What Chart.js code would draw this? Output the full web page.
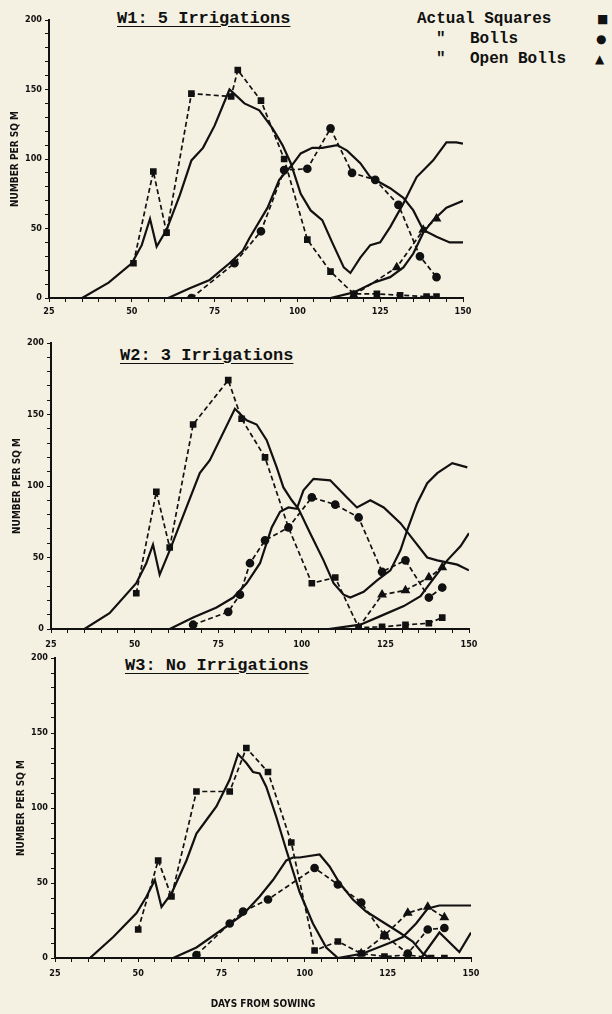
<!DOCTYPE html>
<html>
<head><meta charset="utf-8">
<title>Squares, bolls and open bolls</title>
<script src="https://cdn.jsdelivr.net/npm/chart.js"></script>
<style>
  body { margin: 0; background: #f5f1e2; width: 612px; height: 1014px; position: relative; overflow: hidden; }
  canvas { position: absolute; left: 0; }
  .ttl { position: absolute; font: bold 17px "Liberation Mono", monospace; color: #111;
         text-decoration: underline; text-underline-offset: 3px; white-space: pre; line-height: 17px; }
  .leg { position: absolute; font: bold 16px "Liberation Mono", monospace; color: #111; white-space: pre; line-height: 16px; }
  .mk { position: absolute; font: 12px "DejaVu Sans", sans-serif; color: #111; line-height: 12px; }
</style>
</head>
<body>

<div class="ttl" style="left:117px;top:10px">W1: 5 Irrigations</div>
<div class="ttl" style="left:120px;top:347px">W2: 3 Irrigations</div>
<div class="ttl" style="left:125px;top:657px">W3: No Irrigations</div>

<div class="leg" style="left:417px;top:11px">Actual Squares</div>
<div class="leg" style="left:436px;top:31px">"</div>
<div class="leg" style="left:470px;top:31px">Bolls</div>
<div class="leg" style="left:436px;top:51px">"</div>
<div class="leg" style="left:470px;top:51px">Open Bolls</div>
<div class="mk" style="left:597px;top:13px">■</div>
<div class="mk" style="left:596px;top:33px">●</div>
<div class="mk" style="left:595px;top:53px">▲</div>

<canvas id="c1" width="612" height="325" style="top:0px"></canvas>
<canvas id="c2" width="612" height="330" style="top:322px"></canvas>
<canvas id="c3" width="612" height="374" style="top:640px"></canvas>

<script>
// [day, number per sq m]
// W1: 5 irrigations
var w1SimSquares = [[35,0],[43,11],[50,25],[53,38],[55.5,57],[57.5,37],[60.5,49],[64.5,74],[68,99],[71.5,108],[75,124],[79.5,150],[84,140],[88.5,135],[92.5,122],[95.5,110],[98,97],[101,75],[104,63],[107.5,56],[110.5,40],[114,22],[116,18],[119,29],[122,38],[125,40],[128,51],[132,68],[136,87],[141,99],[145,112],[148,112],[150,111]];
var w1SimBolls = [[61,0],[67.5,7],[73.5,13],[79.5,25],[83.5,34],[85.5,43],[91,65],[94.5,85],[98.5,96],[101,104],[104.5,108],[107.5,108],[112,110],[115,106],[119,97],[122,87],[128,79],[132,72],[135,63],[138,49],[142,44],[146,40],[150,40]];
var w1SimOpen = [[110,0],[117,4],[123,11],[128,15],[132,22],[135,32],[138,47],[141,56],[145,65],[150,70]];
var w1ActSquares = [[50.5,25],[56.5,91],[60.5,47],[68,147],[80,145],[82,164],[89,142],[96,100],[103,42],[110,19],[117,3],[124,3],[131,2],[139,1],[142,1]];
var w1ActBolls = [[68,0],[81,25],[89,48],[96,92],[103,93],[110,122],[116.5,90],[123.5,85],[130.5,67],[137,30],[142,15]];
var w1ActOpen = [[117,2],[130,22],[138,49],[142,57]];

// W2: 3 irrigations
var w2SimSquares = [[35,0],[42.5,11],[50.5,32],[53.5,46],[55.5,59],[57.5,38],[60.5,55],[65.5,85],[69.5,109],[72.5,118],[80,154],[83.5,146],[86.5,143],[89.5,132],[92.5,113],[94.5,99],[97,90],[99,84],[102.5,67],[106.5,48],[109.5,32],[112.5,24],[114.5,22],[118.5,26],[122.5,34],[126.5,41],[129.5,55],[131.5,69],[134.5,88],[137.5,102],[140.5,109],[145,116],[149.5,113]];
var w2SimBolls = [[60.5,0],[67.5,8],[74.5,15],[79.5,22],[83.5,32],[87.5,46],[91,71],[93.5,82],[96,85],[98.5,84],[100.5,97],[103.5,105],[108.5,104],[113.5,92],[116.5,85],[120.5,90],[124.5,85],[129.5,74],[133.5,62],[137.5,50],[140.5,48],[146.5,45],[150,41]];
var w2SimOpen = [[108,0],[117.5,3],[123.5,9],[130.5,16],[135.5,23],[139,34],[143.5,48],[147.5,58],[150,67]];
var w2ActSquares = [[50.5,25],[56.5,96],[60.5,57],[67.5,143],[78,174],[82,147],[89,120],[96,71],[103,32],[110,36],[117,1],[124,1.5],[131,3],[138,4],[142,8]];
var w2ActBolls = [[67.5,3],[78,12],[81.5,24],[84.5,46],[89,62],[96,71],[103,92],[110,87],[117,78],[124,40],[131,48],[138,22],[142,29]];
var w2ActOpen = [[117,1],[124,24],[131,27],[138,36],[142,43]];

// W3: no irrigations
var w3SimSquares = [[35.5,0],[42.5,14],[49.5,30],[52.5,41],[55,52],[57,34],[60,43],[64.5,65],[67.5,83],[70.5,92],[73.5,101],[77.5,119],[80,136],[82.5,130],[84.5,124],[86.5,123],[88.5,114],[91.5,94],[94.5,72],[98.5,44],[102.5,23],[106.5,7],[110,0],[135,0],[140.5,17],[146.5,4],[150,17]];
var w3SimBolls = [[60.5,0],[67.5,7],[76.5,21],[81.5,29],[86.5,41],[90.5,52],[94.5,65],[96.5,67],[98.5,67],[104.5,69],[107.5,61],[110.5,50],[114.5,39],[118.5,31],[123.5,24],[128.5,17],[132.5,11],[135.5,3],[137.5,0]];
var w3SimOpen = [[110,0],[117.5,3],[125.5,10],[129.5,14],[133.5,23],[137,33],[140.5,35],[150,35]];
var w3ActSquares = [[50,19],[56,65],[60,41],[67.5,111],[77.5,111],[82.5,140],[89,124],[96,77],[103,5],[110,11],[117,3],[124,1],[131,2],[138,0],[142,0]];
var w3ActBolls = [[67.5,2],[77.5,23],[81.5,31],[89,39],[103,60],[110,49],[117,37],[124,15],[131,3],[137,19],[142,20]];
var w3ActOpen = [[117,3],[124,15],[131,30],[137,34],[142,27]];

var xTicks = [25, 50, 75, 100, 125, 150];
var yTicks = [0, 50, 100, 150, 200];
var INK = '#111';
var narrow = '"Liberation Sans Narrow", "DejaVu Sans Condensed", sans-serif';
var tickFont = { family: narrow, size: 9, weight: 'bold' };

function pts(arr) {
  return arr.map(function(p) { return { x: p[0], y: p[1] }; });
}

function sim(arr) {
  return { data: pts(arr), borderColor: INK, borderWidth: 2.2, pointRadius: 0, tension: 0 };
}

function act(arr, style) {
  return { data: pts(arr), borderColor: INK, borderWidth: 1.7, borderDash: [5, 3],
           pointStyle: style, pointRadius: style == 'triangle' ? 4 : 3.5,
           pointBackgroundColor: INK, pointBorderColor: INK, tension: 0 };
}

function makePanel(id, series, pad, xHeight, xPad, showXTitle) {
  new Chart(document.getElementById(id), {
    type: 'line',
    data: { datasets: [
      sim(series[0]), sim(series[1]), sim(series[2]),
      act(series[3], 'rect'), act(series[4], 'circle'), act(series[5], 'triangle')
    ] },
    options: {
      responsive: false,
      animation: false,
      layout: { padding: pad },
      plugins: { legend: { display: false }, tooltip: { enabled: false } },
      scales: {
        x: {
          type: 'linear', min: 25, max: 150,
          afterFit: function(s) { s.height = xHeight; },
          ticks: { stepSize: 5, autoSkip: false, maxRotation: 0, padding: xPad, color: INK, font: tickFont,
                   callback: function(v) { return xTicks.indexOf(v) >= 0 ? String(v) : ''; } },
          grid: { drawOnChartArea: false, tickLength: 4, color: INK, lineWidth: 1 },
          border: { color: INK, width: 2 },
          title: { display: showXTitle, text: 'DAYS FROM SOWING', color: INK,
                   font: { family: narrow, size: 10, weight: 'bold' }, padding: { top: 0, bottom: 0 } }
        },
        y: {
          min: 0, max: 200,
          afterFit: function(s) { s.width = 40; },
          ticks: { stepSize: 10, autoSkip: false, padding: 3, color: INK, font: tickFont,
                   callback: function(v) { return yTicks.indexOf(v) >= 0 ? String(v) : ''; } },
          grid: { drawOnChartArea: false, tickLength: 4, color: INK, lineWidth: 1 },
          border: { color: INK, width: 2 },
          title: { display: true, text: 'NUMBER PER SQ M', color: INK,
                   font: { family: narrow, size: 10, weight: 'bold' }, padding: 0 }
        }
      }
    }
  });
}

makePanel('c1', [w1SimSquares, w1SimBolls, w1SimOpen, w1ActSquares, w1ActBolls, w1ActOpen],
  { left: 9, right: 149, top: 20, bottom: 5 }, 22, 4, false);
makePanel('c2', [w2SimSquares, w2SimBolls, w2SimOpen, w2ActSquares, w2ActBolls, w2ActOpen],
  { left: 11, right: 143, top: 21, bottom: 1 }, 22, 6, false);
makePanel('c3', [w3SimSquares, w3SimBolls, w3SimOpen, w3ActSquares, w3ActBolls, w3ActOpen],
  { left: 15, right: 141, top: 18, bottom: 4 }, 52, 6, true);
</script>
</body>
</html>
